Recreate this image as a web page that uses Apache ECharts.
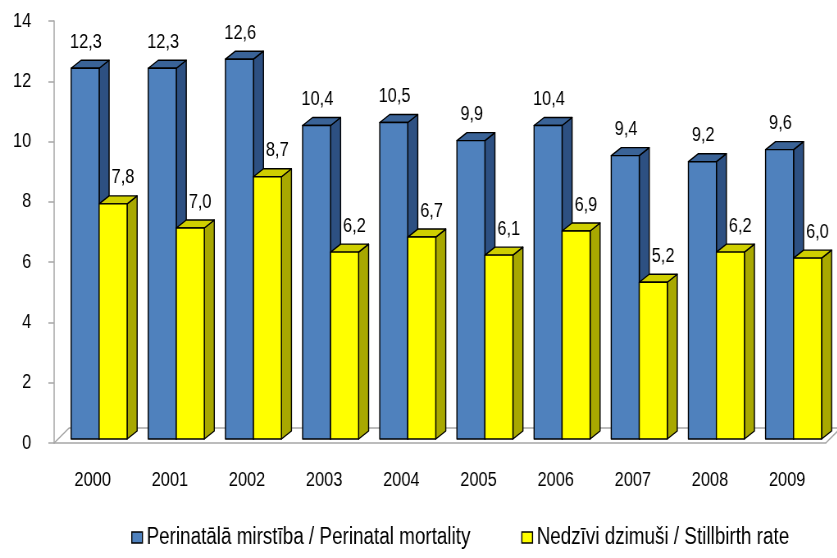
<!DOCTYPE html>
<html>
<head>
<meta charset="utf-8">
<script src="https://cdn.jsdelivr.net/npm/echarts@6/dist/echarts.min.js"></script>
<style>
  html, body { margin: 0; padding: 0; background: #fff; overflow: hidden; }
  /* the original uses a narrow font; no narrow face is installed, so the
     chart is drawn wider and squeezed back to 837px */
  #chart { width: 1021px; height: 558px; transform: scaleX(0.82); transform-origin: 0 0; }
</style>
</head>
<body>
<div id="chart"></div>
<script>
// data
var years = ['2000', '2001', '2002', '2003', '2004', '2005', '2006', '2007', '2008', '2009']
var perinatal = [12.3, 12.3, 12.6, 10.4, 10.5, 9.9, 10.4, 9.4, 9.2, 9.6]
var stillbirth = [7.8, 7.0, 8.7, 6.2, 6.7, 6.1, 6.9, 5.2, 6.2, 6.0]
var seriesNames = ['Perinatālā mirstība / Perinatal mortality', 'Nedzīvi dzimuši / Stillbirth rate']

var SQUEEZE = 0.82
var FONT = '"Liberation Sans", Arial, sans-serif'
var DEPTH_X = 10 / SQUEEZE
var DEPTH_Y = -8
var LIFT = -4 // bars sit a bit behind the front axis plane

// colours: front, top, side
var blueFaces = ['#4F81BD', '#3A6397', '#2D5082']
var yellowFaces = ['#FFFF00', '#CFCF00', '#A8A800']

function fmt (v) {
  return v.toFixed(1).replace('.', ',')
}

// one 3d-looking column drawn from the axis scales
function makeBar (faces, startFrac, labelShift) {
  return function (params, api) {
    var i = api.value(0)
    var v = api.value(1)
    var base = api.coord([i, 0])
    var top = api.coord([i, v])
    var catW = api.size([1, 0])[0]
    var w = catW * 0.363
    var x0 = base[0] + catW * startFrac
    var x1 = x0 + w
    var yb = base[1] + LIFT
    var yt = top[1] + LIFT
    var dx = DEPTH_X
    var dy = DEPTH_Y
    var stroke = { stroke: '#000', lineWidth: 1.4, lineJoin: 'round' }
    return {
      type: 'group',
      children: [
        {
          type: 'polygon',
          shape: { points: [[x1, yb], [x1 + dx, yb + dy], [x1 + dx, yt + dy], [x1, yt]] },
          style: Object.assign({ fill: faces[2] }, stroke)
        },
        {
          type: 'polygon',
          shape: { points: [[x0, yt], [x0 + dx, yt + dy], [x1 + dx, yt + dy], [x1, yt]] },
          style: Object.assign({ fill: faces[1] }, stroke)
        },
        {
          type: 'rect',
          shape: { x: x0, y: yt, width: w, height: yb - yt },
          style: Object.assign({ fill: faces[0] }, stroke)
        },
        {
          type: 'text',
          style: {
            text: fmt(v),
            x: x0 + w / 2 + labelShift,
            y: yt - 16,
            align: 'center',
            verticalAlign: 'bottom',
            fill: '#000',
            font: '20px ' + FONT
          }
        }
      ]
    }
  }
}

function renderFloor (params, api) {
  var cs = params.coordSys
  var x0 = cs.x
  var x1 = cs.x + cs.width
  var y = cs.y + cs.height
  var dx = 15 / SQUEEZE
  var dy = 15
  var line = { stroke: '#A6A6A6', lineWidth: 1.5, fill: null }
  return {
    type: 'group',
    children: [
      { type: 'polyline', shape: { points: [[x0, y], [x0 + dx, y - dy], [x1 + dx, y - dy]] }, style: line },
      { type: 'line', shape: { x1: x1, y1: y, x2: x1 + dx, y2: y - dy }, style: line }
    ]
  }
}

var chart = echarts.init(document.getElementById('chart'))

chart.setOption({
  animation: false,
  backgroundColor: '#fff',
  grid: { left: 66, right: 14, top: 21, bottom: 115 },
  legend: {
    left: 155,
    top: 521,
    itemWidth: 13,
    itemHeight: 11,
    itemGap: 62,
    textStyle: { fontFamily: FONT, fontSize: 23, color: '#000' },
    data: [
      { name: seriesNames[0], icon: 'rect', itemStyle: { color: blueFaces[0], borderColor: '#000', borderWidth: 1.4 } },
      { name: seriesNames[1], icon: 'rect', itemStyle: { color: yellowFaces[0], borderColor: '#000', borderWidth: 1.4 } }
    ]
  },
  xAxis: {
    type: 'category',
    data: years,
    axisLine: { lineStyle: { color: '#A6A6A6', width: 1.5 } },
    axisTick: { length: 6, lineStyle: { color: '#A6A6A6', width: 1.5 } },
    axisLabel: { margin: 27, color: '#000', fontFamily: FONT, fontSize: 20 }
  },
  yAxis: {
    type: 'value',
    min: 0,
    max: 14,
    interval: 2,
    axisLine: { show: true, lineStyle: { color: '#A6A6A6', width: 1.5 } },
    axisTick: { show: true, length: 7, lineStyle: { color: '#A6A6A6', width: 1.5 } },
    splitLine: { show: false },
    axisLabel: { margin: 28, color: '#000', fontFamily: FONT, fontSize: 20 }
  },
  series: [
    {
      type: 'custom',
      name: 'floor',
      silent: true,
      z: 1,
      renderItem: renderFloor,
      data: [[0, 0]]
    },
    {
      type: 'custom',
      name: seriesNames[0],
      z: 2,
      itemStyle: { color: blueFaces[0] },
      renderItem: makeBar(blueFaces, -0.28, 1),
      data: perinatal.map(function (v, i) { return [i, v] })
    },
    {
      type: 'custom',
      name: seriesNames[1],
      z: 3,
      itemStyle: { color: yellowFaces[0] },
      renderItem: makeBar(yellowFaces, 0.083, 12),
      data: stillbirth.map(function (v, i) { return [i, v] })
    }
  ]
})
</script>
</body>
</html>
